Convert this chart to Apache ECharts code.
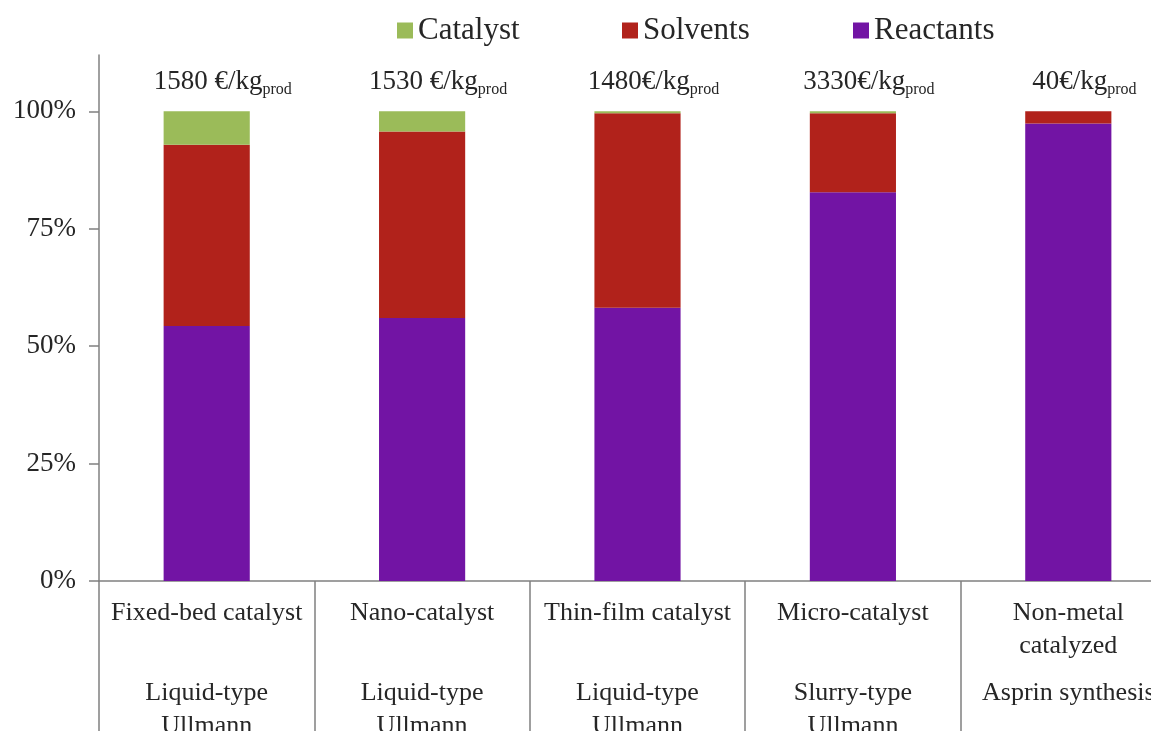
<!DOCTYPE html>
<html>
<head>
<meta charset="utf-8">
<script src="https://cdn.jsdelivr.net/npm/echarts@6/dist/echarts.min.js"></script>
<style>
  html, body { margin: 0; padding: 0; background: #ffffff; }
  #chart { width: 1151px; height: 731px; }
</style>
</head>
<body>
<div id="chart"></div>
<script>
// Cost breakdown per kg of product, shares in percent
const catalystTypes = ['Fixed-bed catalyst', 'Nano-catalyst', 'Thin-film catalyst', 'Micro-catalyst', 'Non-metal\ncatalyzed'];
const processTypes = ['Liquid-type\nUllmann', 'Liquid-type\nUllmann', 'Liquid-type\nUllmann', 'Slurry-type\nUllmann', 'Asprin synthesis'];
const reactants = [54.3, 56.0, 58.2, 82.8, 97.4];
const solvents = [38.6, 39.7, 41.4, 16.8, 2.6];
const catalyst = [7.1, 4.3, 0.4, 0.4, 0];
const costLabels = ['1580 €/kg', '1530 €/kg', '1480€/kg', '3330€/kg', '40€/kg'];
const costSubscript = 'prod';
const yTicks = [0, 25, 50, 75, 100];

const SERIF = '"Liberation Serif", "Times New Roman", serif';
const TEXT = '#262626';
const AXIS = '#808080';

// Two text blocks under each category: catalyst type, then reaction type
function categoryLabel(value, idx) {
  const upper = value.split('\n');
  while (upper.length < 2) upper.push(' ');
  const lower = processTypes[idx].split('\n');
  return upper.map(t => '{a|' + t + '}').join('\n') + '\n{gap| }\n' +
         lower.map(t => '{a|' + t + '}').join('\n');
}

function legendBox(name, left) {
  return {
    data: [name],
    left: left,
    top: 15,
    padding: 0,
    icon: 'rect',
    itemWidth: 16,
    itemHeight: 16,
    itemGap: 0,
    textStyle: { fontFamily: SERIF, fontSize: 31, color: TEXT, padding: [0, 0, 0, 0] }
  };
}

const chart = echarts.init(document.getElementById('chart'));
chart.setOption({
  animation: false,
  backgroundColor: '#ffffff',
  legend: [
    legendBox('Catalyst', 397),
    legendBox('Solvents', 622),
    legendBox('Reactants', 853)
  ],
  grid: { left: 99, top: 55, width: 1077, height: 526, outerBoundsMode: 'none', containLabel: false },
  xAxis: {
    type: 'category',
    data: catalystTypes,
    boundaryGap: true,
    axisLine: { show: true, lineStyle: { color: AXIS, width: 1.5 } },
    axisTick: { show: true, interval: 0, alignWithLabel: false, length: 155, lineStyle: { color: AXIS, width: 1.5 } },
    axisLabel: {
      interval: 0,
      margin: 16,
      formatter: categoryLabel,
      rich: {
        a: { fontFamily: SERIF, fontSize: 26, color: TEXT, lineHeight: 33, align: 'center' },
        gap: { fontSize: 10, lineHeight: 14 }
      }
    }
  },
  yAxis: {
    type: 'value',
    min: 0,
    max: 112,
    splitLine: { show: false },
    axisLine: { show: true, lineStyle: { color: AXIS, width: 1.5 } },
    axisTick: { show: true, length: 10, customValues: yTicks, lineStyle: { color: AXIS, width: 1.5 } },
    axisLabel: {
      customValues: yTicks,
      margin: 23,
      formatter: '{value}%',
      fontFamily: SERIF,
      fontSize: 27,
      color: TEXT
    }
  },
  series: [
    {
      name: 'Reactants', type: 'bar', stack: 'share', data: reactants,
      barWidth: '40%', itemStyle: { color: '#7214a4' }
    },
    {
      name: 'Solvents', type: 'bar', stack: 'share', data: solvents,
      barWidth: '40%', itemStyle: { color: '#b1221b' }
    },
    {
      name: 'Catalyst', type: 'bar', stack: 'share', data: catalyst,
      barWidth: '40%', itemStyle: { color: '#9bbb59' },
      label: {
        show: true,
        position: 'top',
        distance: 14,
        offset: [16, 0],
        formatter: p => '{m|' + costLabels[p.dataIndex] + '}{s|' + costSubscript + '}',
        rich: {
          m: { fontFamily: SERIF, fontSize: 27, color: TEXT, lineHeight: 30 },
          s: { fontFamily: SERIF, fontSize: 16, color: TEXT, lineHeight: 6, verticalAlign: 'bottom' }
        }
      }
    }
  ]
});
</script>
</body>
</html>
